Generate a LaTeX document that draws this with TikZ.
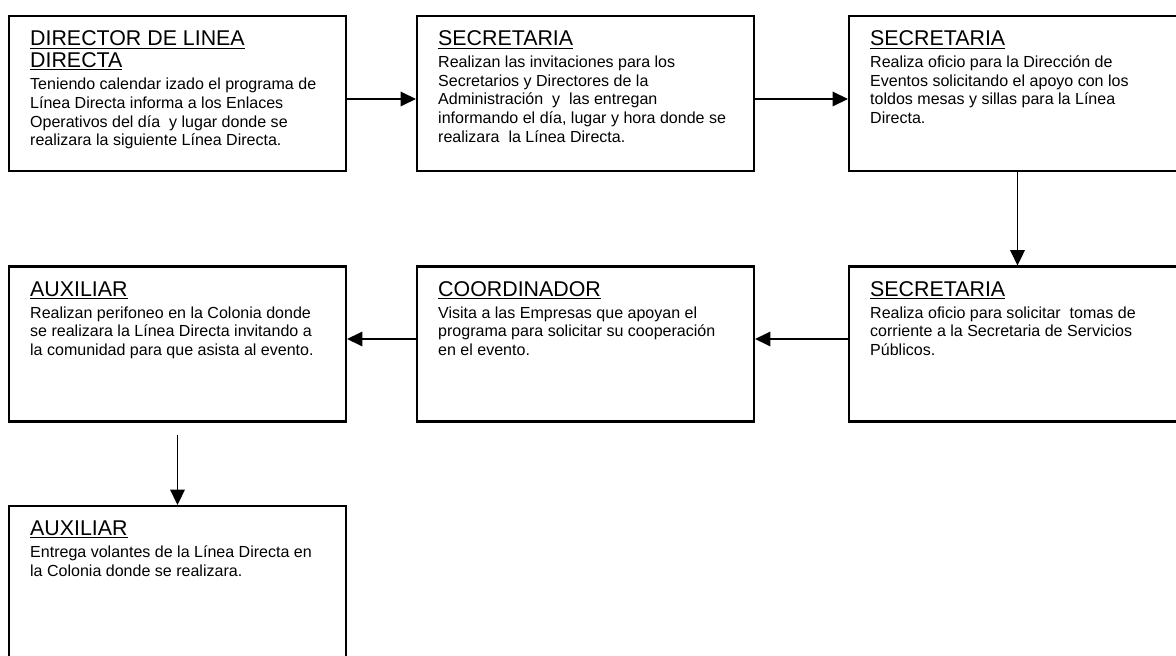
\documentclass[tikz,border=0pt]{standalone}
\usepackage{fontspec}
\setmainfont{Liberation Sans}
\usetikzlibrary{arrows.meta}
\newcommand{\ttl}[1]{{\fontsize{15.2pt}{16pt}\selectfont\underline{#1}}}
\begin{document}
\begin{tikzpicture}[x=0.025cm, y=-0.025cm,
  caja/.style={draw, line width=1.5pt, minimum width=8.425cm, minimum height=3.875cm, inner sep=0pt},
  texto/.style={anchor=north west, align=left, inner sep=0pt, font=\fontsize{11.4pt}{13.2pt}\selectfont},
  flecha/.style={-{Triangle[length=0.38cm,width=0.36cm]}, line width=1.4pt}]
\clip (0,0) rectangle (1176,656);
% cajas
\node[caja] (dir) at (177.5,93.5) {};
\node[caja] (sec1) at (585.5,93.5) {};
\node[caja] (sec2) at (1017.5,93.5) {};
\node[caja] (sec3) at (1017.5,344) {};
\node[caja] (coord) at (585.5,344) {};
\node[caja] (aux1) at (177.5,344) {};
\node[caja] (aux2) at (177.5,583.5) {};
% textos
\node[texto] (dir-t) at ([xshift=0.55cm,yshift=-0.39cm]dir.north west) {\ttl{DIRECTOR DE LINEA}\\[2pt]
  \ttl{DIRECTA}\\[3pt] Teniendo calendar izado el programa de\\ Línea Directa informa a los Enlaces\\
  Operativos del día\ \ y lugar donde se\\ realizara la siguiente Línea Directa.};
\node[texto] (sec1-t) at ([xshift=0.55cm,yshift=-0.39cm]sec1.north west) {\ttl{SECRETARIA}\\[2.5pt]
  Realizan las invitaciones para los\\ Secretarios y Directores de la\\ Administración\ \ y\ \ las entregan\\
  informando el día, lugar y hora donde se\\ realizara\ \ la Línea Directa.};
\node[texto] (sec2-t) at ([xshift=0.55cm,yshift=-0.39cm]sec2.north west) {\ttl{SECRETARIA}\\[2.5pt]
  Realiza oficio para la Dirección de\\ Eventos solicitando el apoyo con los\\
  toldos mesas y sillas para la Línea\\ Directa.};
\node[texto] (sec3-t) at ([xshift=0.55cm,yshift=-0.39cm]sec3.north west) {\ttl{SECRETARIA}\\[2.5pt]
  Realiza oficio para solicitar\ \ tomas de\\ corriente a la Secretaria de Servicios\\ Públicos.};
\node[texto] (coord-t) at ([xshift=0.55cm,yshift=-0.39cm]coord.north west) {\ttl{COORDINADOR}\\[2.5pt]
  Visita a las Empresas que apoyan el\\ programa para solicitar su cooperación\\ en el evento.};
\node[texto] (aux1-t) at ([xshift=0.55cm,yshift=-0.39cm]aux1.north west) {\ttl{AUXILIAR}\\[2.5pt]
  Realizan perifoneo en la Colonia donde\\ se realizara la Línea Directa invitando a\\
  la comunidad para que asista al evento.};
\node[texto] (aux2-t) at ([xshift=0.55cm,yshift=-0.39cm]aux2.north west) {\ttl{AUXILIAR}\\[2.5pt]
  Entrega volantes de la Línea Directa en\\ la Colonia donde se realizara.};
% flechas
\draw[flecha] ([yshift=-0.1375cm]dir.east) -- ([yshift=-0.1375cm]sec1.west);
\draw[flecha] ([yshift=-0.1375cm]sec1.east) -- ([yshift=-0.1375cm]sec2.west);
\draw[flecha] (sec2.south) -- (sec3.north);
\draw[flecha] ([yshift=0.125cm]sec3.west) -- ([yshift=0.125cm]coord.east);
\draw[flecha] ([yshift=0.125cm]coord.west) -- ([yshift=0.125cm]aux1.east);
\draw[flecha] ([yshift=-0.3cm]aux1.south) -- (aux2.north);
\end{tikzpicture}
\end{document}
